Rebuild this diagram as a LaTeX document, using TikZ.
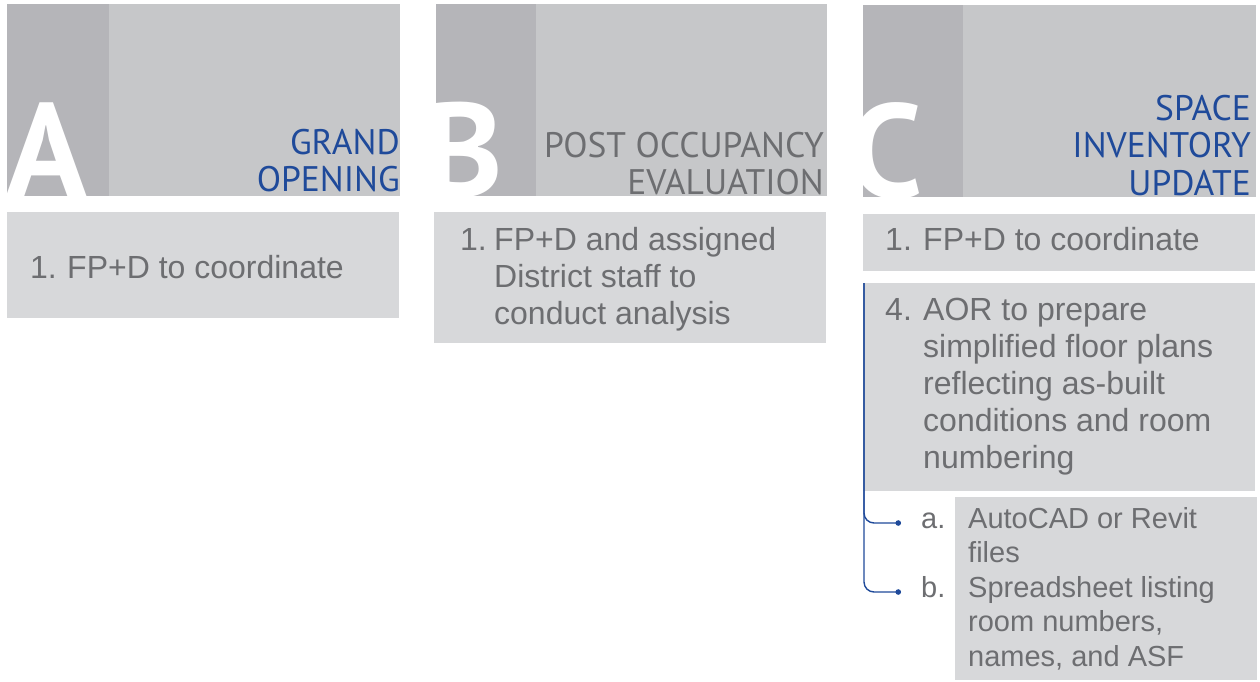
\documentclass[tikz,border=0pt]{standalone}
\usepackage{fontspec}
\setmainfont{Liberation Sans}
\newfontfamily\headfont{PT Sans}
\usetikzlibrary{arrows.meta}
\definecolor{headfill}{HTML}{C6C7C9}
\definecolor{stripfill}{HTML}{B5B5B9}
\definecolor{bodyfill}{HTML}{D7D8DA}
\definecolor{itemgray}{HTML}{6D6E71}
\definecolor{titleblue}{HTML}{1F4A9A}
\newcommand{\itemtext}{\fontsize{32}{37}\selectfont}
\newcommand{\subitemtext}{\fontsize{29}{34.75}\selectfont}
\newcommand{\headtext}{\headfont\fontsize{35.5}{37.5}\selectfont}
\newcommand{\lettertext}{\headfont\bfseries\fontsize{133}{133}\selectfont}
\tikzset{
  >={Circle[length=5.5pt]},
  panel/.style={anchor=north west,inner sep=0pt,outer sep=0pt},
  headbox/.style={panel,fill=headfill,minimum height=192},
  stripbox/.style={panel,fill=stripfill,minimum width=100,minimum height=192},
  bodybox/.style={panel,fill=bodyfill},
  bigletter/.style={anchor=base west,inner sep=0pt,text=white,font=\lettertext},
  headtitle/.style={anchor=base east,inner sep=0pt,align=right,font=\headtext},
  itemnum/.style={anchor=base west,inner sep=0pt,text=itemgray,font=\itemtext},
  itemline/.style={anchor=base west,inner sep=0pt,align=left,text=itemgray,font=\itemtext},
  subline/.style={anchor=base west,inner sep=0pt,align=left,text=itemgray,font=\subitemtext},
  branchline/.style={->,draw=titleblue,line width=1.4pt,rounded corners=10pt}
}

\begin{document}
\begin{tikzpicture}[x=1pt,y=-1pt]
  \useasboundingbox (0,0) rectangle (1260,681);
  \fill[white] (0,0) rectangle (1260,681);

  % Phase headers (multi-line texts sit on their last baseline).
  \node[headbox,minimum width=393] (headA) at (7,4) {};
  \node[stripbox,minimum width=102] (stripA) at (7,4) {};
  \node[bigletter] (letterA) at (6,196) {A};
  \node[headtitle,text=titleblue] (titleA) at (400,191.5) {GRAND\\OPENING};

  \node[headbox,minimum width=391] (headB) at (436,4) {};
  \node[stripbox] (stripB) at (436,4) {};
  \node[bigletter] (letterB) at (424,196) {B};
  \node[headtitle,text=itemgray] (titleB) at (824,194.5) {POST OCCUPANCY\\EVALUATION};

  \node[headbox,minimum width=393] (headC) at (863,5) {};
  \node[stripbox] (stripC) at (863,5) {};
  \node[bigletter] (letterC) at (848,197) {C};
  \node[headtitle,text=titleblue] (titleC) at (1251,195) {SPACE\\INVENTORY\\UPDATE};

  % Task boxes.
  \node[bodybox,minimum width=392,minimum height=106] (bodyA) at (7,212) {};
  \node[itemnum] (numA) at (30,278) {1.};
  \node[itemline] (taskA) at (67,278) {FP+D to coordinate};

  \node[bodybox,minimum width=392,minimum height=131] (bodyB) at (434,212) {};
  \node[itemnum] (numB) at (460,250) {1.};
  \node[itemline] (taskB) at (494,324) {FP+D and assigned\\District staff to\\conduct analysis};

  \node[bodybox,minimum width=392,minimum height=57] (bodyC) at (863,214) {};
  \node[itemnum] (numC) at (885,250) {1.};
  \node[itemline] (taskC) at (923,250) {FP+D to coordinate};

  \node[bodybox,minimum width=392,minimum height=208] (bodyD) at (863,283) {};
  \node[itemnum] (numD) at (885,320) {4.};
  \node[itemline] (taskD) at (923,468) {AOR to prepare\\simplified floor plans\\reflecting as-built\\conditions and room\\numbering};

  \node[bodybox,minimum width=302,minimum height=183] (subbox) at (955,497) {};
  \node[subline] (labela) at (921,528) {a.};
  \node[subline] (suba) at (968,562.75) {AutoCAD or Revit\\files};
  \node[subline] (labelb) at (921,597) {b.};
  \node[subline] (subb) at (968,666.5) {Spreadsheet listing\\room numbers,\\names, and ASF};

  % Sub-item brackets.
  \coordinate (trunk) at (864,283);
  \coordinate (dota) at (901,523);
  \coordinate (dotb) at (901,592);
  \draw[branchline] (trunk) |- (dota);
  \draw[branchline] (trunk) |- (dotb);
\end{tikzpicture}
\end{document}
